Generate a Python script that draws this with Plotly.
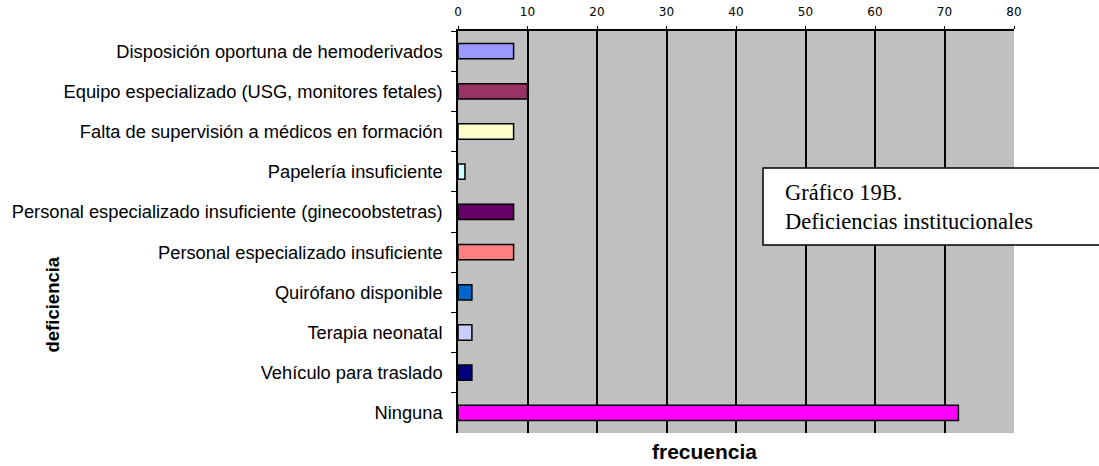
import plotly.graph_objects as go

categorias = [
    "Disposición oportuna de hemoderivados",
    "Equipo especializado (USG, monitores fetales)",
    "Falta de supervisión a médicos en formación",
    "Papelería insuficiente",
    "Personal especializado insuficiente (ginecoobstetras)",
    "Personal especializado insuficiente",
    "Quirófano disponible",
    "Terapia neonatal",
    "Vehículo para traslado",
    "Ninguna",
]
frecuencia = [8, 10, 8, 1, 8, 8, 2, 2, 2, 72]
colores = [
    "#9999FF", "#993366", "#FFFFCC", "#CCFFFF", "#660066",
    "#FF8080", "#0066CC", "#CCCCFF", "#000080", "#FF00FF",
]
ticks_x = [0, 10, 20, 30, 40, 50, 60, 70, 80]

fig = go.Figure(
    go.Bar(
        y=categorias,
        x=frecuencia,
        orientation="h",
        marker=dict(color=colores, line=dict(color="black", width=1.5)),
        width=0.38,
    )
)

fig.update_layout(
    width=1099,
    height=466,
    margin=dict(l=458, r=85, t=31, b=33),
    paper_bgcolor="white",
    plot_bgcolor="#C0C0C0",
    showlegend=False,
    font=dict(family="Arial", color="black"),
)

fig.update_xaxes(
    side="top",
    range=[0, 80],
    tickvals=ticks_x,
    ticktext=[str(t) for t in ticks_x],
    tickfont=dict(family="DejaVu Sans", size=12),
    ticklabelstandoff=5,
    automargin=False,
    showgrid=True,
    gridcolor="black",
    gridwidth=1.5,
    showline=True,
    linecolor="black",
    linewidth=1.5,
    ticks="outside",
    ticklen=3,
    tickcolor="black",
    zeroline=False,
    fixedrange=True,
)

fig.update_yaxes(
    autorange="reversed",
    categoryorder="array",
    categoryarray=categorias,
    tickfont=dict(family="Arial", size=18.3),
    automargin=False,
    showline=True,
    linecolor="black",
    linewidth=1.5,
    ticks="outside",
    tickson="boundaries",
    ticklen=5,
    tickcolor="black",
    ticklabelstandoff=10,
    showgrid=False,
)

# axis titles
fig.add_annotation(
    text="<b>frecuencia</b>", xref="paper", yref="paper",
    x=0.444, y=-0.047, yanchor="middle", xanchor="center",
    showarrow=False, font=dict(family="Arial", size=21),
)
fig.add_annotation(
    text="<b>deficiencia</b>", xref="paper", yref="paper",
    x=-0.73, y=0.32, xanchor="center", yanchor="middle", textangle=-90,
    showarrow=False, font=dict(family="Arial", size=18.5),
)

# caption box
fig.add_shape(
    type="rect", xref="paper", yref="paper",
    x0=0.5486, x1=1.16, y0=0.4677, y1=0.659,
    line=dict(color="black", width=1.5), fillcolor="white", layer="above",
)
fig.add_annotation(
    text="Gráfico 19B.<br>Deficiencias institucionales",
    xref="paper", yref="paper", x=0.5845, y=0.5634,
    xanchor="left", yanchor="middle", align="left", showarrow=False,
    font=dict(family="Liberation Serif, Times New Roman", size=22.5),
)

fig.write_html("out.html")
